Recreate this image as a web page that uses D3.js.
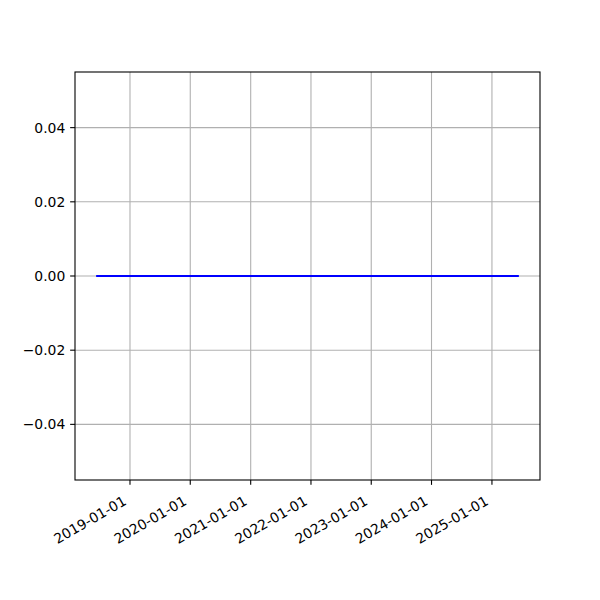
<!DOCTYPE html>
<html><head><meta charset="utf-8">
<script src="https://cdn.jsdelivr.net/npm/d3@7"></script>
<style>body{margin:0;background:#fff}svg{display:block}text{font-family:"DejaVu Sans",sans-serif;font-size:13.9px;fill:#000}</style>
</head><body>
<svg id="c" width="600" height="600"></svg>
<script>
const dates = ["2018-06-10","2019-06-10","2020-06-10","2021-06-10","2022-06-10","2023-06-10","2024-06-10","2025-06-13"];
const values = [0,0,0,0,0,0,0,0];
const yTicks = [-0.04,-0.02,0,0.02,0.04];
const xTickLabels = ["2019-01-01","2020-01-01","2021-01-01","2022-01-01","2023-01-01","2024-01-01","2025-01-01"];

const parse = d3.utcParse("%Y-%m-%d");
const data = dates.map((d,i)=>({t:parse(d), v:values[i]}));
const L=75,R=540,T=72,B=480;
const svg=d3.select("#c");
const ext=d3.extent(data,d=>d.t);
const span=ext[1]-ext[0];
const x=d3.scaleUtc().domain([new Date(+ext[0]-span*0.05), new Date(+ext[1]+span*0.05)]).range([L,R]);
const y=d3.scaleLinear().domain([-0.055,0.055]).range([B,T]);
const xt=xTickLabels.map(parse);
const grid="#b0b0b0";
// grid
svg.append("g").selectAll("line").data(xt).join("line")
  .attr("x1",d=>x(d)).attr("x2",d=>x(d)).attr("y1",T).attr("y2",B)
  .attr("stroke",grid).attr("stroke-width",1.1);
svg.append("g").selectAll("line").data(yTicks).join("line")
  .attr("x1",L).attr("x2",R).attr("y1",d=>y(d)).attr("y2",d=>y(d))
  .attr("stroke",grid).attr("stroke-width",1.1);
// line
svg.append("path").datum(data)
  .attr("d",d3.line().x(d=>x(d.t)).y(d=>y(d.v)))
  .attr("fill","none").attr("stroke","#0000ff").attr("stroke-width",2.1);
// spines
svg.append("rect").attr("x",L).attr("y",T).attr("width",R-L).attr("height",B-T)
  .attr("fill","none").attr("stroke","#000").attr("stroke-width",1.1);
// x ticks
const fmt=d3.utcFormat("%Y-%m-%d");
const xg=svg.append("g");
xt.forEach(d=>{
  xg.append("line").attr("x1",x(d)).attr("x2",x(d)).attr("y1",B).attr("y2",B+4.86).attr("stroke","#000").attr("stroke-width",1.1);
  xg.append("text").attr("transform",`translate(${x(d)-1},${B+9.7+17})rotate(-30)`)
    .attr("text-anchor","end").attr("y",-3.3).text(fmt(d));
});
// y ticks
const yf=v=>{const s=d3.format(".2f")(Math.abs(v)); return v<0?"\u2212"+s:s;};
const yg=svg.append("g");
yTicks.forEach(v=>{
  yg.append("line").attr("x1",L-4.86).attr("x2",L).attr("y1",y(v)).attr("y2",y(v)).attr("stroke","#000").attr("stroke-width",1.1);
  yg.append("text").attr("x",L-9.7).attr("y",y(v)).attr("dy","0.35em").attr("text-anchor","end").text(yf(v));
});
</script>
</body></html>
